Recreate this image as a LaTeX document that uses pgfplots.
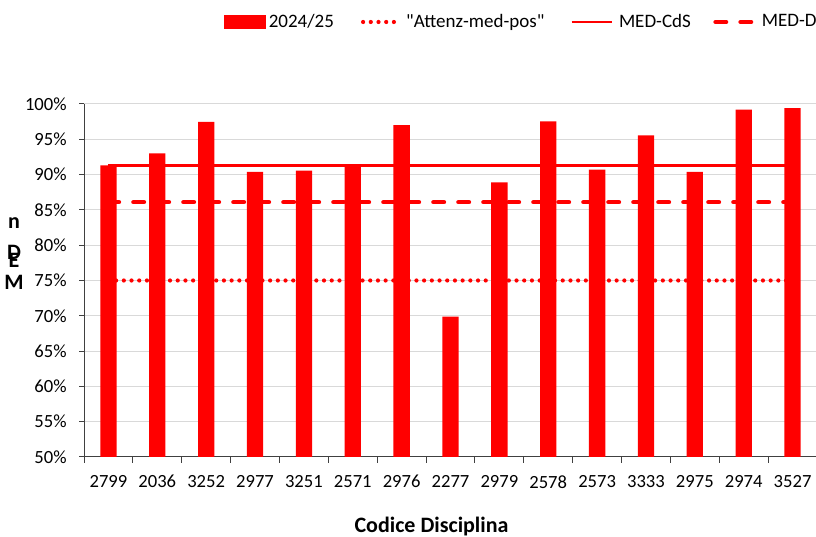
\documentclass[border=0pt]{standalone}
\usepackage{fontspec}
\setmainfont{Carlito}[Ligatures=TeXOff]
\usepackage{pgfplots}
\pgfplotsset{compat=1.18}
\definecolor{gridc}{RGB}{217,217,217}
\definecolor{axisc}{RGB}{64,64,64}
\begin{document}
\fontsize{18.6}{22}\selectfont
\begin{tikzpicture}
\useasboundingbox (0,0) rectangle (816pt,537pt);
\clip (0,0) rectangle (816pt,537pt);
\begin{axis}[
  at={(84pt,80pt)}, anchor=south west,
  scale only axis, width=733pt, height=353pt,
  xmin=-0.5, xmax=14.5, ymin=50, ymax=100,
  axis x line=bottom, axis y line=left,
  axis line style={-, draw=axisc, line width=1pt},
  ytick={50,55,...,100},
  yticklabels={50\%,55\%,60\%,65\%,70\%,75\%,80\%,85\%,90\%,95\%,100\%},
  xtick={0,...,14},
  xticklabels={2799,2036,3252,2977,3251,2571,2976,2277,2979,2578,2573,3333,2975,2974,3527},
  minor xtick={-0.5,0.5,1.5,2.5,3.5,4.5,5.5,6.5,7.5,8.5,9.5,10.5,11.5,12.5,13.5,14.5},
  major x tick style={draw=none},
  minor x tick style={draw=axisc, line width=1pt},
  y tick style={draw=axisc, line width=1pt},
  tick align=outside,
  major tick length=5pt, minor tick length=6pt,
  ymajorgrids, grid style={draw=gridc, line width=1pt},
  xticklabel style={yshift=-7pt},
  yticklabel style={xshift=-6pt},
  xlabel={Codice Disciplina},
  xlabel style={at={(0.4741,0)}, anchor=base, yshift=-76pt, font=\fontsize{22}{26}\selectfont\bfseries},
  legend style={at={(0.18909,1.2323)}, anchor=west, draw=none, fill=none,
    inner sep=0pt, outer sep=0pt, legend columns=4, column sep=0pt,
    nodes={inner xsep=0pt, inner ysep=2pt, align=left},
    font=\fontsize{19}{22}\selectfont},
]
\addplot[ybar, bar width=16.3pt, fill=red, draw=none,
  legend image code/.code={\path (-1pt,0pt) (42pt,0pt);\fill[red] (0pt,-7pt) rectangle (42pt,7pt);}]
  coordinates {(0,91.3) (1,93.0) (2,97.45) (3,90.4) (4,90.55) (5,91.25) (6,97.0)
   (7,69.9) (8,88.9) (9,97.55) (10,90.7) (11,95.55) (12,90.4) (13,99.2) (14,99.4)};
\addlegendentry[text width=90.4pt]{\hspace*{3.2pt}2024/25}
\addplot[red, line width=4.2pt, line cap=round, dash pattern=on 0pt off 7.7pt,
  legend image code/.code={\path (-1pt,0pt) (42pt,0pt);\draw[red, line width=4.2pt, line cap=round, dash pattern=on 0pt off 7.7pt] (4pt,0pt) -- (42pt,0pt);}]
  coordinates {(0,75) (14,75)};
\addlegendentry[text width=166pt]{\hspace*{3pt}"Attenz-med-pos"}
\addplot[red, line width=2.8pt,
  legend image code/.code={\path (-1pt,0pt) (42pt,0pt);\draw[red, line width=2.8pt] (0pt,0pt) -- (40pt,0pt);}]
  coordinates {(0,91.3) (14,91.3)};
\addlegendentry[text width=95pt]{\hspace*{4pt}MED-CdS}
\addplot[red, line width=4.5pt, line cap=round, dash pattern=on 10.5pt off 14.5pt,
  legend image code/.code={\path (-1pt,0pt) (42pt,0pt);\draw[red, line width=4.5pt, line cap=round, dash pattern=on 10.5pt off 14.5pt] (2.3pt,0pt) -- (40pt,0pt);}]
  coordinates {(0,86.1) (14,86.1)};
\addlegendentry[text width=80pt]{\hspace*{4.3pt}MED-D}
\end{axis}
\begin{scope}[every node/.style={font=\fontsize{22}{26}\selectfont\bfseries, anchor=base, inner sep=0pt}]
\node at (14pt,308pt) {n};
\node at (14pt,277pt) {D};
\node at (14pt,269pt) {E};
\node at (14pt,247pt) {M};
\end{scope}
\end{tikzpicture}
\end{document}
